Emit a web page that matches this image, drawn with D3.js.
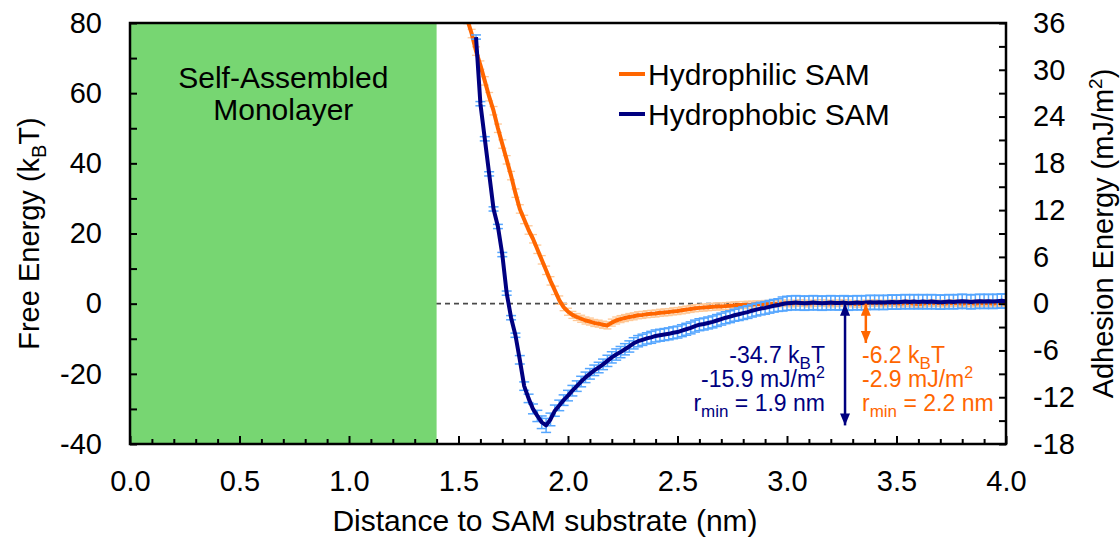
<!DOCTYPE html>
<html>
<head>
<meta charset="utf-8">
<script src="https://cdn.jsdelivr.net/npm/d3@7"></script>
<style>
body { margin: 0; background: #fff; }
svg text { font-family: "Liberation Sans", Arial, sans-serif; fill: #000; }
</style>
</head>
<body>
<svg id="chart" width="1120" height="542"></svg>
<script>
// sampling grid of the free energy profiles (nm)
var stepNm = 0.02;
var philicStart = 1.54;
var phobicStart = 1.58;

// Hydrophilic SAM, free energy in kBT
var philicFE = [81, 77, 72, 68, 63.5, 59, 55, 50, 45.5, 41, 36.5,
    31.5, 27, 24, 21, 18.5, 15.5, 12.5, 9.5, 6.5, 3.8,
    1, -1, -2.3, -3.2, -3.8, -4.3, -4.8, -5.1, -5.5, -5.7,
    -6.0, -6.2, -5.4, -4.8, -4.4, -4.1, -3.8, -3.6, -3.3, -3.2,
    -3.0, -2.9, -2.8, -2.6, -2.5, -2.4, -2.2, -2.1, -1.9, -1.7,
    -1.5, -1.3, -1.2, -1.1, -1.0, -0.9, -0.8, -0.8, -0.7, -0.6,
    -0.5, -0.4, -0.4, -0.3, -0.3, -0.2, -0.2, -0.1, -0.1, 0.0,
    0.0, 0.1, 0.1, 0.0, 0.1, 0.2, 0.1, 0.0, 0.1, 0.2,
    0.2, 0.1, 0.0, 0.1, 0.1, 0.2, 0.1, 0.0, -0.1, 0.0,
    0.1, 0.1, 0.2, 0.1, 0.0, 0.1, 0.2, 0.1, 0.0, 0.1,
    0.1, 0.0, -0.1, 0.0, 0.1, 0.2, 0.1, 0.1, 0.0, 0.1,
    0.2, 0.1, 0.0, 0.1, 0.1, 0.0, 0.1, 0.2, 0.1, 0.0,
    0.1, 0.1, 0.0];
var philicErr = [1.2, 1.2, 1.2, 1.2, 1.2, 1.2, 1.2, 1.2, 1.2, 1.2, 1.2,
    1.2, 1.2, 1.2, 1.2, 1.2, 1.2, 1.2, 1.2, 1.2, 1.2,
    1.2, 1.0, 1.0, 1.0, 1.0, 1.0, 1.0, 1.0, 1.0, 1.0,
    1.0, 1.0, 1.0, 1.0, 1.0, 1.0, 1.0, 1.0, 1.0, 1.0,
    1.0, 1.0, 1.0, 1.0, 1.0, 1.0, 1.0, 1.0, 1.0, 1.0,
    1.0, 1.0, 1.0, 1.0, 1.0, 1.0, 1.0, 1.0, 1.0, 1.0,
    1.0, 1.0, 1.0, 1.0, 1.0, 1.0, 1.0, 1.0, 1.0, 1.0,
    0.9, 0.9, 0.9, 0.9, 0.9, 0.9, 0.9, 0.9, 0.9, 0.9,
    0.9, 0.9, 0.9, 0.9, 0.9, 0.9, 0.9, 0.9, 0.9, 0.9,
    0.9, 0.9, 0.9, 0.9, 0.9, 0.9, 0.9, 0.9, 0.9, 0.9,
    0.9, 0.9, 0.9, 0.9, 0.9, 0.9, 0.9, 0.9, 0.9, 0.9,
    0.9, 0.9, 0.9, 0.9, 0.9, 0.9, 0.9, 0.9, 0.9, 0.9,
    0.9, 0.9, 0.9];

// Hydrophobic SAM, free energy in kBT
var phobicFE = [76, 57, 47, 37, 27, 22, 14, 3, -4, -9,
    -16, -23.5, -27, -30, -32, -33.8, -34.7, -33, -30.5, -29,
    -27.5, -26.2, -24.8, -23.5, -22.2, -21, -20, -19, -18.2, -17.3,
    -16.3, -15.3, -14.5, -13.8, -13, -12.2, -11.3, -10.7, -10.3, -9.9,
    -9.6, -9.2, -9.0, -8.8, -8.6, -8.3, -8.1, -7.7, -7.3, -6.9,
    -6.4, -6.0, -5.8, -5.5, -5.2, -4.8, -4.4, -4.0, -3.7, -3.3,
    -3.0, -2.7, -2.4, -2.0, -1.7, -1.4, -1.2, -0.9, -0.6, -0.4,
    -0.1, 0.1, 0.2, 0.3, 0.2, 0.1, 0.2, 0.3, 0.2, 0.1,
    0.2, 0.3, 0.2, 0.2, 0.3, 0.1, 0.2, 0.3, 0.2, 0.3,
    0.4, 0.3, 0.4, 0.3, 0.4, 0.5, 0.4, 0.5, 0.6, 0.5,
    0.6, 0.5, 0.6, 0.5, 0.6, 0.5, 0.4, 0.5, 0.6, 0.5,
    0.6, 0.7, 0.6, 0.5, 0.6, 0.7, 0.6, 0.7, 0.6, 0.7,
    0.8, 0.7];
var phobicErr = [0.6, 0.6, 0.6, 0.6, 0.6, 0.6, 0.6, 0.6, 0.6, 0.6,
    1.2, 1.2, 1.2, 1.4, 1.6, 1.8, 2.0, 1.8, 1.6, 1.5,
    1.5, 1.5, 1.5, 1.5, 1.5, 1.5, 1.5, 1.5, 1.5, 1.5,
    1.6, 1.6, 1.6, 1.6, 1.6, 1.6, 1.6, 1.6, 1.6, 1.6,
    1.7, 1.7, 1.7, 1.7, 1.7, 1.7, 1.7, 1.7, 1.7, 1.7,
    1.7, 1.7, 1.7, 1.7, 1.7, 1.7, 1.7, 1.7, 1.7, 1.7,
    1.8, 1.8, 1.8, 1.8, 1.8, 1.8, 1.8, 1.8, 1.8, 1.8,
    2.0, 2.0, 2.0, 2.0, 2.0, 2.0, 2.0, 2.0, 2.0, 2.0,
    2.0, 2.0, 2.0, 2.0, 2.0, 2.0, 2.0, 2.0, 2.0, 2.0,
    2.0, 2.0, 2.0, 2.0, 2.0, 2.0, 2.0, 2.0, 2.0, 2.0,
    2.0, 2.0, 2.0, 2.0, 2.0, 2.0, 2.0, 2.0, 2.0, 2.0,
    2.0, 2.0, 2.0, 2.0, 2.0, 2.0, 2.0, 2.0, 2.0, 2.0,
    2.0, 2.0];

// axes
var xTicks = [0, 0.5, 1, 1.5, 2, 2.5, 3, 3.5, 4];
var xMinor = [0.1, 0.2, 0.3, 0.4, 0.6, 0.7, 0.8, 0.9, 1.1, 1.2, 1.3, 1.4,
    1.6, 1.7, 1.8, 1.9, 2.1, 2.2, 2.3, 2.4, 2.6, 2.7, 2.8, 2.9,
    3.1, 3.2, 3.3, 3.4, 3.6, 3.7, 3.8, 3.9];
var leftTicks = [-40, -20, 0, 20, 40, 60, 80];
var leftMinor = [-30, -10, 10, 30, 50, 70];
var rightTicks = [-18, -12, -6, 0, 6, 12, 18, 24, 30, 36];
var rightMinor = [-15, -9, -3, 3, 9, 15, 21, 27, 33];

// SAM slab and the well-depth annotations
var samRange = [0, 1.4];
var phobicWell = { x: 3.265, depth: -34.7 };
var philicWell = { x: 3.36, depth: -11.2 };
var phobicNotes = [["-34.7 k", "B", "T"], ["-15.9 mJ/m", "2"], ["r", "min", " = 1.9 nm"]];
var philicNotes = [["-6.2 k", "B", "T"], ["-2.9 mJ/m", "2"], ["r", "min", " = 2.2 nm"]];

(function() {

    var orange = "#ff6600", orangeLight = "#ffc896";
    var navy = "#000080", blueLight = "#55a6ff";

    var svg = d3.select("#chart");
    var pLeft = 130, pRight = 1006, pTop = 23, pBottom = 444;

    var x = d3.scaleLinear().domain([0, 4]).range([pLeft, pRight]);
    var y = d3.scaleLinear().domain([-40, 80]).range([pBottom, pTop]);
    var yR = d3.scaleLinear().domain([-18, 36]).range([pBottom, pTop]);

    var toPoints = function(start, vals, errs) {
        return vals.map(function(v, i) {
            return { x: +(start + i * stepNm).toFixed(2), y: v, e: errs[i] };
        });
    };
    var philic = toPoints(philicStart, philicFE, philicErr);
    var phobic = toPoints(phobicStart, phobicFE, phobicErr);

    var defs = svg.append("defs");
    defs.append("clipPath").attr("id", "plotClip")
        .append("rect").attr("x", pLeft).attr("y", pTop)
        .attr("width", pRight - pLeft).attr("height", pBottom - pTop);

    // zero reference line
    svg.append("line")
        .attr("x1", x(0)).attr("x2", x(4))
        .attr("y1", y(0)).attr("y2", y(0))
        .attr("stroke", "#4a4a4a").attr("stroke-width", 1.6)
        .attr("stroke-dasharray", "5,4");

    // SAM region
    svg.append("rect")
        .attr("x", x(samRange[0])).attr("y", pTop)
        .attr("width", x(samRange[1]) - x(samRange[0]))
        .attr("height", pBottom - pTop)
        .attr("fill", "#77d672");

    svg.append("text").attr("x", x(0.7)).attr("y", 88)
        .attr("text-anchor", "middle").attr("font-size", 30).text("Self-Assembled");
    svg.append("text").attr("x", x(0.7)).attr("y", 120)
        .attr("text-anchor", "middle").attr("font-size", 30).text("Monolayer");

    var plot = svg.append("g").attr("clip-path", "url(#plotClip)");

    var drawErrors = function(data, colour, cap, width) {
        var g = plot.append("g").attr("stroke", colour).attr("stroke-width", width);
        data.forEach(function(d) {
            var cx = x(d.x);
            g.append("line").attr("x1", cx).attr("x2", cx)
                .attr("y1", y(d.y - d.e)).attr("y2", y(d.y + d.e));
            g.append("line").attr("x1", cx - cap).attr("x2", cx + cap)
                .attr("y1", y(d.y - d.e)).attr("y2", y(d.y - d.e));
            g.append("line").attr("x1", cx - cap).attr("x2", cx + cap)
                .attr("y1", y(d.y + d.e)).attr("y2", y(d.y + d.e));
        });
    };

    var line = d3.line().x(function(d) { return x(d.x); }).y(function(d) { return y(d.y); });

    drawErrors(philic, orangeLight, 4, 1.3);
    plot.append("path").datum(philic).attr("d", line)
        .attr("fill", "none").attr("stroke", orange).attr("stroke-width", 4)
        .attr("stroke-linejoin", "round");

    drawErrors(phobic, blueLight, 5, 1.5);
    plot.append("path").datum(phobic).attr("d", line)
        .attr("fill", "none").attr("stroke", navy).attr("stroke-width", 4)
        .attr("stroke-linejoin", "round");

    // arrows for the well depths
    [["navyHead", navy], ["orangeHead", orange]].forEach(function(m) {
        defs.append("marker").attr("id", m[0])
            .attr("viewBox", "0 0 12 10").attr("refX", 12).attr("refY", 5)
            .attr("markerWidth", 12).attr("markerHeight", 10)
            .attr("markerUnits", "userSpaceOnUse")
            .attr("orient", "auto-start-reverse")
            .append("path").attr("d", "M0,0L12,5L0,10Z").attr("fill", m[1]);
    });
    svg.append("line")
        .attr("x1", x(phobicWell.x)).attr("x2", x(phobicWell.x))
        .attr("y1", y(0)).attr("y2", y(phobicWell.depth))
        .attr("stroke", navy).attr("stroke-width", 2.5)
        .attr("marker-start", "url(#navyHead)").attr("marker-end", "url(#navyHead)");
    svg.append("line")
        .attr("x1", x(philicWell.x)).attr("x2", x(philicWell.x))
        .attr("y1", y(0)).attr("y2", y(philicWell.depth))
        .attr("stroke", orange).attr("stroke-width", 2.5)
        .attr("marker-start", "url(#orangeHead)").attr("marker-end", "url(#orangeHead)");

    var noteLines = function(notes, xPos, anchor, colour) {
        notes.forEach(function(parts, i) {
            var t = svg.append("text").attr("x", xPos).attr("y", 363 + i * 24)
                .attr("text-anchor", anchor).attr("font-size", 23)
                .style("fill", colour);
            t.append("tspan").text(parts[0]);
            if (parts[1] === "2") {
                t.append("tspan").attr("dy", -9).attr("font-size", 16).text("2");
            } else {
                t.append("tspan").attr("dy", 6).attr("font-size", 17).text(parts[1]);
                t.append("tspan").attr("dy", -6).text(parts[2]);
            }
        });
    };
    noteLines(phobicNotes, 825, "end", navy);
    noteLines(philicNotes, 862, "start", orange);

    // legend
    var legend = [["Hydrophilic SAM", orange], ["Hydrophobic SAM", navy]];
    legend.forEach(function(l, i) {
        svg.append("line").attr("x1", 619).attr("x2", 645)
            .attr("y1", 74 + i * 40).attr("y2", 74 + i * 40)
            .attr("stroke", l[1]).attr("stroke-width", 4);
        svg.append("text").attr("x", 648).attr("y", 85 + i * 40)
            .attr("font-size", 30).text(l[0]);
    });

    // frame
    svg.append("rect").attr("x", pLeft).attr("y", pTop)
        .attr("width", pRight - pLeft).attr("height", pBottom - pTop)
        .attr("fill", "none").attr("stroke", "#000").attr("stroke-width", 2.5);

    var styleAxis = function(g) {
        g.select(".domain").remove();
        g.selectAll(".tick line").attr("stroke", "#000").attr("stroke-width", 2);
        g.selectAll(".tick text").attr("font-size", 29)
            .attr("font-family", "Liberation Sans, Arial, sans-serif").attr("fill", "#000");
    };

    svg.append("g").attr("transform", "translate(0," + pBottom + ")")
        .call(d3.axisBottom(x).tickValues(xMinor).tickSize(-5).tickFormat(""))
        .call(styleAxis);
    svg.append("g").attr("transform", "translate(0," + pBottom + ")")
        .call(d3.axisBottom(x).tickValues(xTicks).tickSize(-8).tickPadding(26)
            .tickFormat(function(d) { return d.toFixed(1); }))
        .call(styleAxis);

    svg.append("g").attr("transform", "translate(" + pLeft + ",0)")
        .call(d3.axisLeft(y).tickValues(leftMinor).tickSize(-7).tickFormat(""))
        .call(styleAxis);
    svg.append("g").attr("transform", "translate(" + pLeft + ",0)")
        .call(d3.axisLeft(y).tickValues(leftTicks).tickSize(-7).tickPadding(28)
            .tickFormat(function(d) { return String(d); }))
        .call(styleAxis);

    svg.append("g").attr("transform", "translate(" + pRight + ",0)")
        .call(d3.axisRight(yR).tickValues(rightMinor).tickSize(-7).tickFormat(""))
        .call(styleAxis);
    svg.append("g").attr("transform", "translate(" + pRight + ",0)")
        .call(d3.axisRight(yR).tickValues(rightTicks).tickSize(-7).tickPadding(27)
            .tickFormat(function(d) { return String(d); }))
        .call(styleAxis);

    // axis titles
    svg.append("text").attr("x", 545).attr("y", 531)
        .attr("text-anchor", "middle").attr("font-size", 30)
        .text("Distance to SAM substrate (nm)");

    var yTitle = svg.append("text")
        .attr("transform", "translate(39," + (pTop + pBottom) / 2 + ") rotate(-90)")
        .attr("text-anchor", "middle").attr("font-size", 29);
    yTitle.append("tspan").text("Free Energy (k");
    yTitle.append("tspan").attr("dy", 7).attr("font-size", 20).text("B");
    yTitle.append("tspan").attr("dy", -7).text("T)");

    var rTitle = svg.append("text")
        .attr("transform", "translate(1113," + (pTop + pBottom) / 2 + ") rotate(-90)")
        .attr("text-anchor", "middle").attr("font-size", 29);
    rTitle.append("tspan").text("Adhesion Energy (mJ/m");
    rTitle.append("tspan").attr("dy", -11).attr("font-size", 19).text("2");
    rTitle.append("tspan").attr("dy", 11).text(")");

}());
</script>
</body>
</html>
